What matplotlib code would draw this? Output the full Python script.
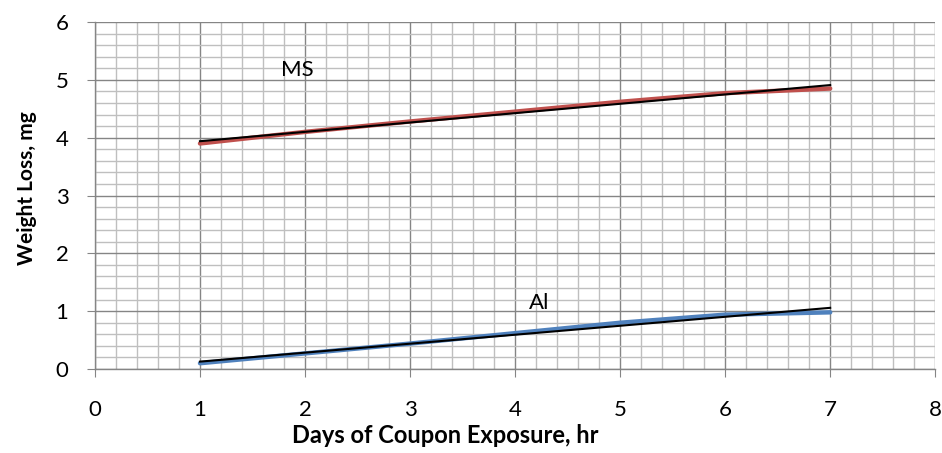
import numpy as np
import matplotlib.pyplot as plt
from matplotlib.ticker import MultipleLocator

plt.rcParams['font.family'] = ['Lato', 'DejaVu Sans']

# Datos
days = [1, 2, 3, 4, 5, 6, 7]
ms_loss = [3.90, 4.10, 4.28, 4.45, 4.62, 4.77, 4.85]
al_loss = [0.10, 0.27, 0.44, 0.62, 0.80, 0.94, 0.98]

x = np.array(days)

# Lineas de tendencia lineal (como en Excel)
ms_fit = np.polyval(np.polyfit(x, ms_loss, 1), x)
al_fit = np.polyval(np.polyfit(x, al_loss, 1), x)

fig = plt.figure(figsize=(9.42, 4.53), dpi=100)
ax = fig.add_axes([0.1008, 0.1854, 0.892, 0.766])

ax.plot(x, ms_loss, color='#C0504D', lw=3.2, solid_capstyle='round', zorder=3)
ax.plot(x, ms_fit, color='black', lw=1.5, zorder=4)
ax.plot(x, al_loss, color='#4F81BD', lw=3.2, solid_capstyle='round', zorder=3)
ax.plot(x, al_fit, color='black', lw=1.5, zorder=4)

ax.text(1.93, 5.17, 'MS', fontsize=16, ha='center', va='center')
ax.text(4.23, 1.14, 'Al', fontsize=16, ha='center', va='center')

ax.set_xlim(0, 8)
ax.set_ylim(0, 6)
ax.xaxis.set_major_locator(MultipleLocator(1))
ax.yaxis.set_major_locator(MultipleLocator(1))
ax.xaxis.set_minor_locator(MultipleLocator(0.2))
ax.yaxis.set_minor_locator(MultipleLocator(0.2))

ax.grid(which='major', color='#858585', lw=1.0, zorder=1)
ax.grid(which='minor', color='#BFBFBF', lw=1.0, zorder=0)
ax.set_axisbelow(True)

for s in ['top', 'right']:
    ax.spines[s].set_visible(False)
for s in ['left', 'bottom']:
    ax.spines[s].set_color('#858585')
    ax.spines[s].set_linewidth(1.0)

ax.tick_params(which='major', length=6, color='#858585', labelsize=16)
ax.tick_params(axis='x', pad=16)
ax.tick_params(axis='y', pad=13)
ax.tick_params(which='minor', length=0)

ax.set_xlabel('Days of Coupon Exposure, hr', fontsize=17, fontweight='bold')
ax.set_ylabel('Weight Loss, mg', fontsize=15, fontweight='bold')
ax.xaxis.set_label_coords(0.417, -0.158)
ax.yaxis.set_label_coords(-0.069, 0.522)

fig.savefig('out.png', dpi=100)
